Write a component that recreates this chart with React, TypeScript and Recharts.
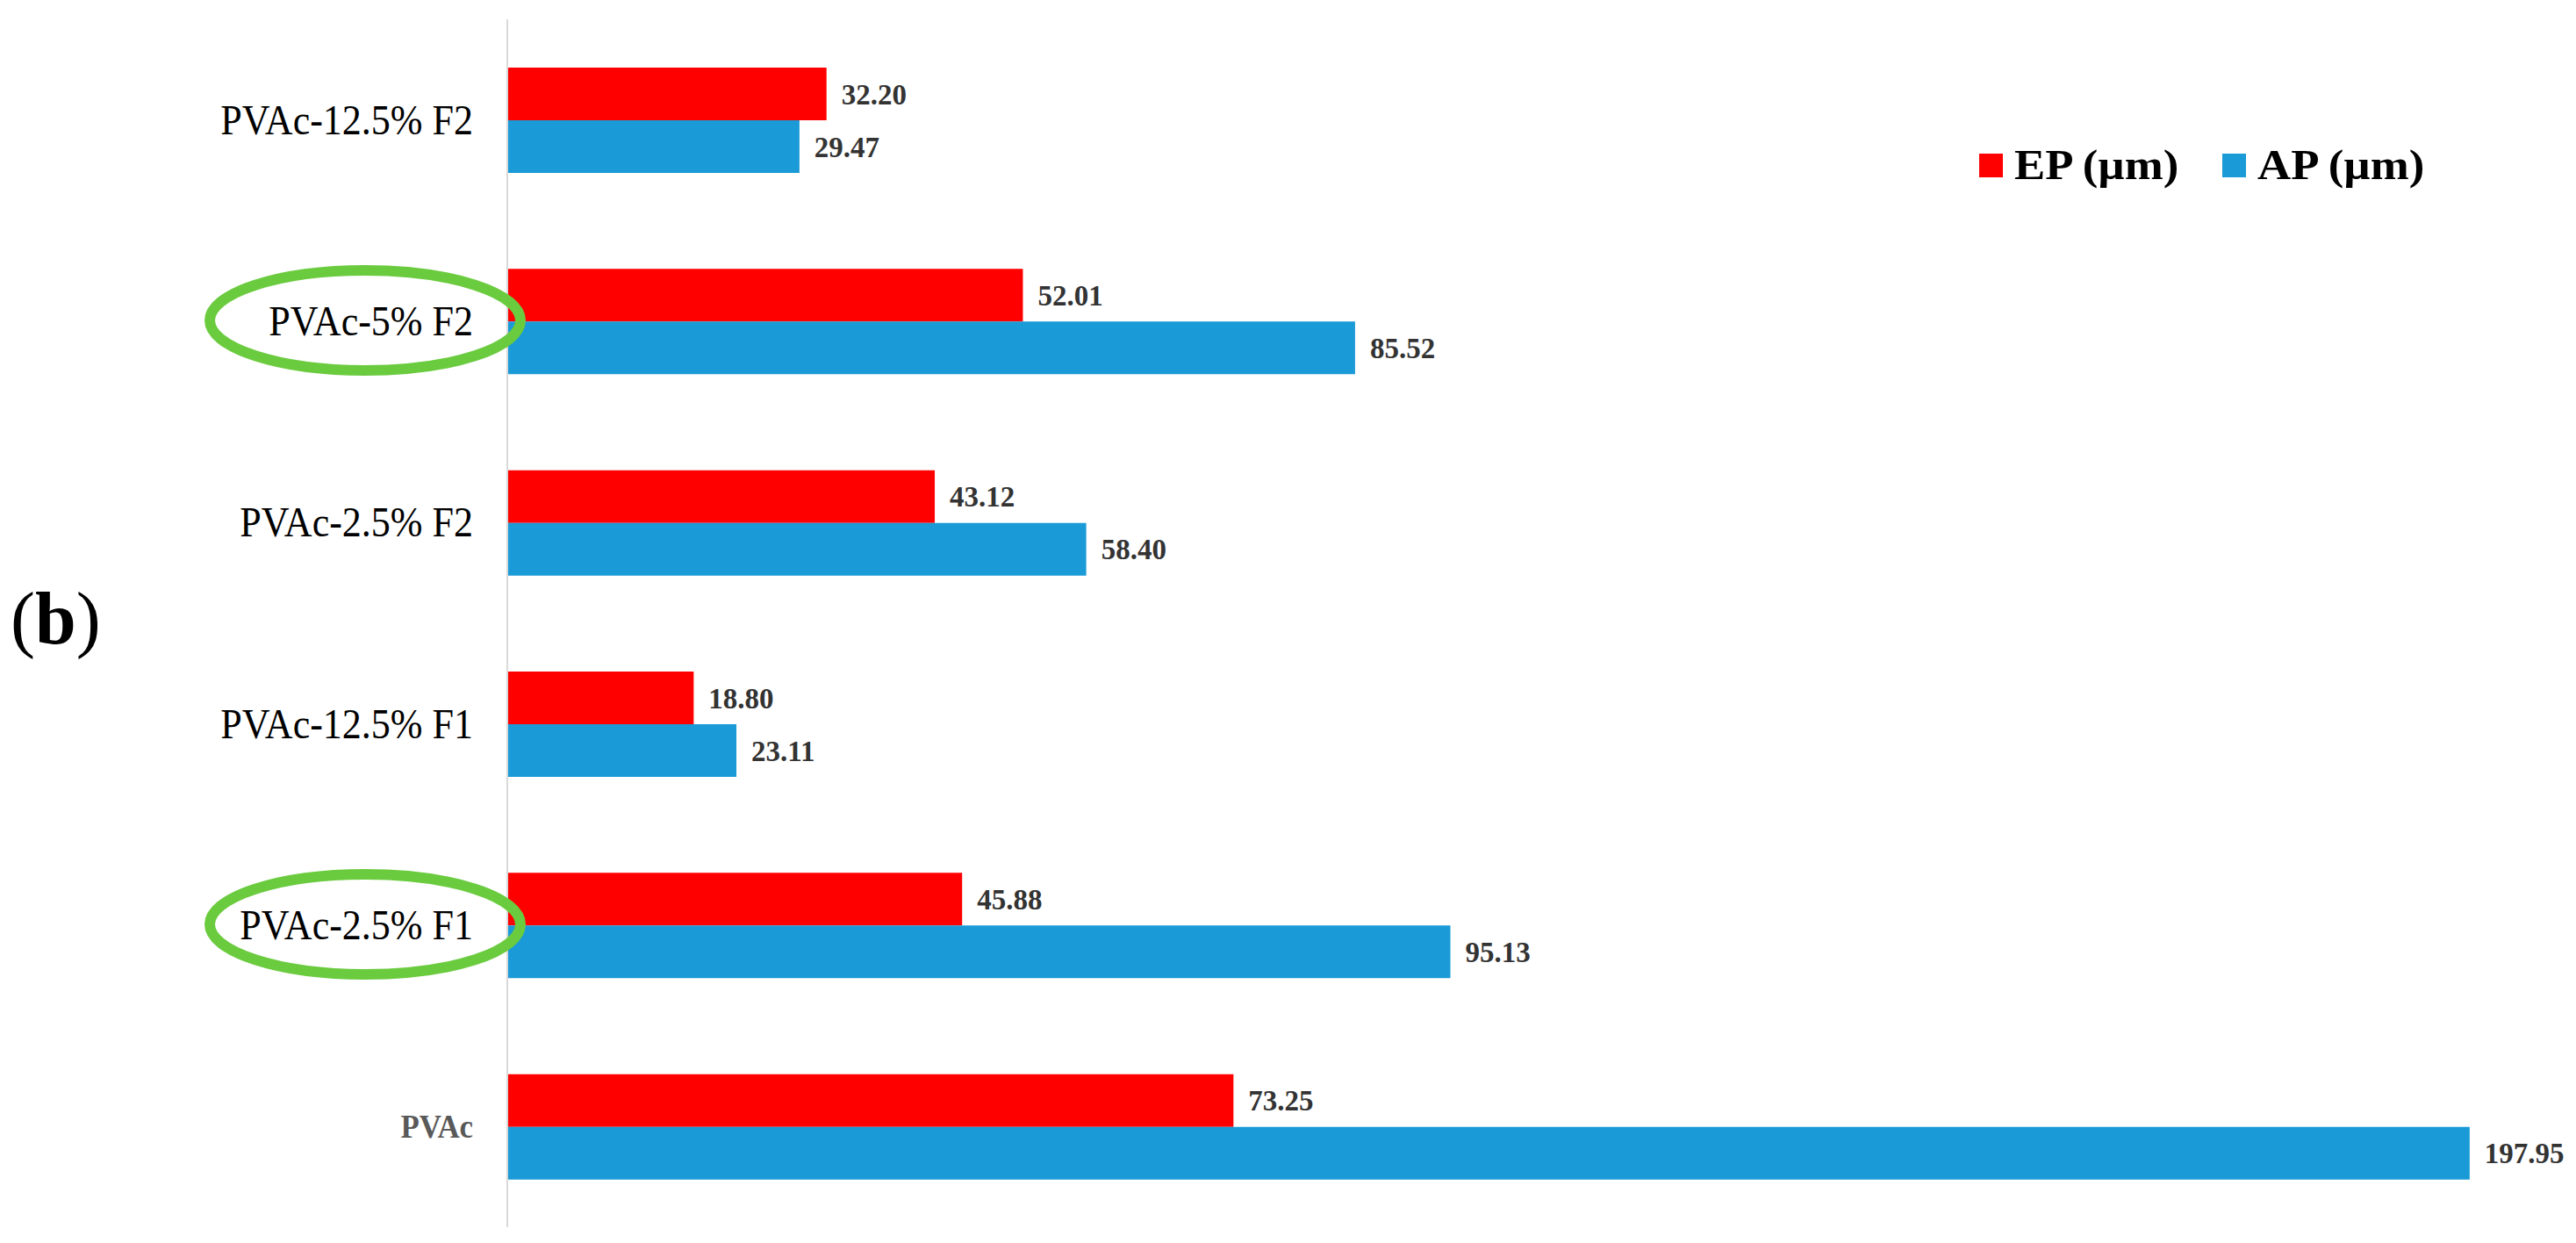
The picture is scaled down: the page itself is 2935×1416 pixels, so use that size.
import React from 'react';
import { BarChart, Bar, XAxis, YAxis, LabelList, Legend } from 'recharts';

const categories = ['PVAc-12.5% F2', 'PVAc-5% F2', 'PVAc-2.5% F2', 'PVAc-12.5% F1', 'PVAc-2.5% F1', 'PVAc'];
const epValues = [32.2, 52.01, 43.12, 18.8, 45.88, 73.25];
const apValues = [29.47, 85.52, 58.4, 23.11, 95.13, 197.95];
const seriesNames = ['EP (µm)', 'AP (µm)'];
const highlighted = ['PVAc-5% F2', 'PVAc-2.5% F1'];
const baseCategory = 'PVAc';
const xDomain = [0, 200];

const data = categories.map((c, i) => ({ category: c, ep: epValues[i], ap: apValues[i] }));

const SERIF = "'Liberation Serif', 'Times New Roman', Times, serif";
const RED = '#FF0000';
const BLUE = '#1A9AD6';

const CategoryTick = (props: any) => {
  const { x, y, payload } = props;
  const label = payload.value as string;
  const isBase = label === baseCategory;
  const isHi = highlighted.includes(label);
  return (
    <g>
      {isHi && (
        <ellipse cx={x - 123} cy={y - 1} rx={177} ry={57} fill="none" stroke="#6BCB3F" strokeWidth={12} />
      )}
      <text
        transform={`translate(${x},${y + (isBase ? 13 : 16)}) scale(0.917,1)`}
        textAnchor="end"
        fontFamily={SERIF}
        fontSize={isBase ? 38 : 48}
        fontWeight={isBase ? 'bold' : 'normal'}
        fill={isBase ? '#595959' : '#000000'}
      >
        {label}
      </text>
    </g>
  );
};

const LegendContent = (props: any) => {
  const payload = props.payload || [];
  const items = seriesNames.map((name) => {
    const found = payload.find((p: any) => p.value === name);
    return { value: name, color: found ? found.color : '#000' };
  });
  return (
    <div style={{ display: 'flex', alignItems: 'center' }}>
      {items.map((it: any, i: number) => (
        <div key={i} style={{ display: 'flex', alignItems: 'center', width: i === 0 ? 277 : 'auto' }}>
          <div style={{ width: 27, height: 27, background: it.color }} />
          <span
            style={{
              marginLeft: 13,
              fontFamily: SERIF,
              fontWeight: 'bold',
              fontSize: 48,
              lineHeight: '48px',
              display: 'inline-block',
              transform: 'scaleX(1.1)',
              transformOrigin: 'left center',
              color: '#000',
              whiteSpace: 'nowrap',
            }}
          >
            {it.value}
          </span>
        </div>
      ))}
    </div>
  );
};

const fmt = (v: any) => Number(v).toFixed(2);

export default function App() {
  return (
    <div style={{ position: 'absolute', left: 0, top: 0, width: 2935, height: 1416, background: '#ffffff', overflow: 'hidden' }}>
      <div
        style={{
          position: 'absolute',
          left: 12,
          top: 663,
          fontFamily: SERIF,
          fontSize: 84,
          lineHeight: '84px',
          color: '#000',
          whiteSpace: 'nowrap',
        }}
      >
        <span>(</span>
        <span style={{ fontWeight: 'bold' }}>b</span>
        <span>)</span>
      </div>
      <BarChart
        width={2935}
        height={1416}
        data={data}
        layout="vertical"
        margin={{ top: 22, right: 98, bottom: 18, left: 0 }}
        barGap={0}
      >
        <XAxis type="number" domain={xDomain} hide />
        <Bar dataKey="ep" name={seriesNames[0]} fill={RED} barSize={60} isAnimationActive={false}>
          <LabelList
            dataKey="ep"
            position="right"
            offset={17}
            formatter={fmt}
            fill="#333333"
            fontSize={33}
            fontWeight="bold"
            fontFamily={SERIF}
          />
        </Bar>
        <Bar dataKey="ap" name={seriesNames[1]} fill={BLUE} barSize={60} isAnimationActive={false}>
          <LabelList
            dataKey="ap"
            position="right"
            offset={17}
            formatter={fmt}
            fill="#333333"
            fontSize={33}
            fontWeight="bold"
            fontFamily={SERIF}
          />
        </Bar>
        <YAxis
          type="category"
          dataKey="category"
          width={578}
          axisLine={{ stroke: '#D9D9D9', strokeWidth: 2 }}
          tickLine={false}
          tickSize={0}
          tickMargin={39}
          interval={0}
          tick={<CategoryTick />}
        />
        <Legend
          layout="horizontal"
          verticalAlign="middle"
          align="center"
          wrapperStyle={{ left: 2255, top: 164, width: 'auto' }}
          content={<LegendContent />}
        />
      </BarChart>
    </div>
  );
}
